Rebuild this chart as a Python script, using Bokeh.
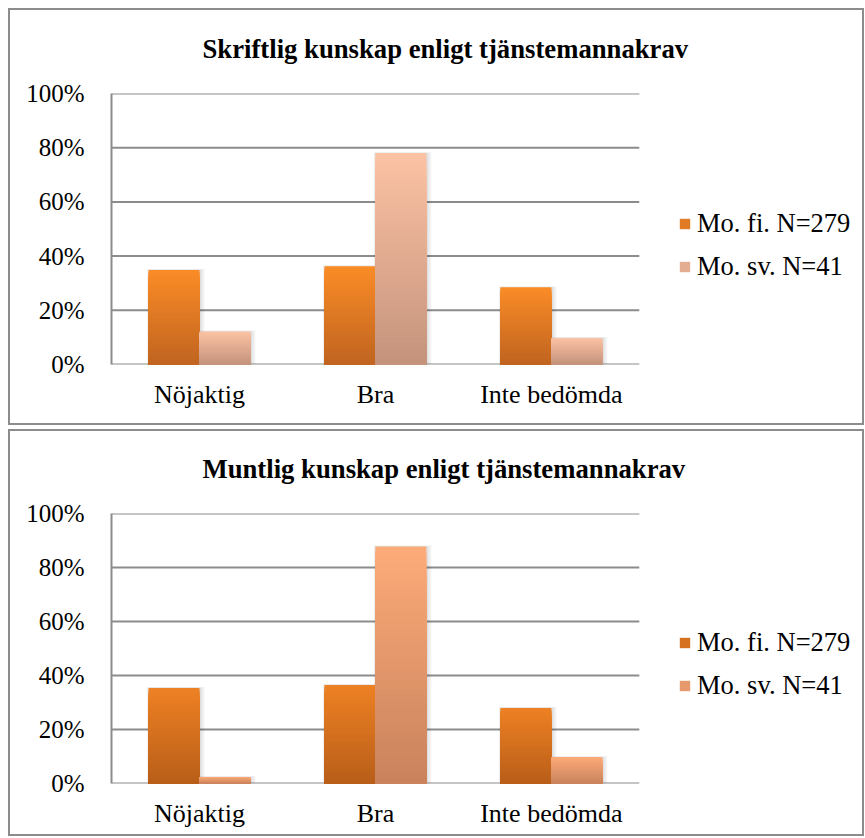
from bokeh.plotting import figure
from bokeh.models import ColumnDataSource, Range1d, NumeralTickFormatter, Legend, LegendItem, Title
from bokeh.layouts import column
from bokeh.embed import file_html
from bokeh.resources import INLINE

# ---------------- data ----------------
categories = ["Nöjaktig", "Bra", "Inte bedömda"]
series_names = ["Mo. fi. N=279", "Mo. sv. N=41"]
chart_titles = ["Skriftlig kunskap enligt tjänstemannakrav",
                "Muntlig kunskap enligt tjänstemannakrav"]
skriftlig_fi = [0.349, 0.363, 0.285]
skriftlig_sv = [0.122, 0.780, 0.098]
muntlig_fi = [0.354, 0.365, 0.280]
muntlig_sv = [0.024, 0.878, 0.098]
y_ticks = [0, 0.2, 0.4, 0.6, 0.8, 1.0]

# ---------------- styling ----------------
FONT = "Liberation Serif"
GRID = "#8c8c8c"
# (top colour, bottom colour) of each bar gradient
grad_top = {"fi": ("#fb8c27", "#bf6420"), "sv": ("#fcc2a4", "#c4937c")}
grad_bottom = {"fi": ("#ee8124", "#b85e19"), "sv": ("#fdab79", "#c8825c")}
N_STRIPS = 48
FIG_W = 856
LEFT = 101
PX_PER_CAT = 175.0
FRAME_H = 269.0


def hex2rgb(h):
    h = h.lstrip("#")
    return tuple(int(h[i:i + 2], 16) for i in (0, 2, 4))


def lerp(c0, c1, f):
    a, b = hex2rgb(c0), hex2rgb(c1)
    return "#%02x%02x%02x" % tuple(int(round(a[i] + (b[i] - a[i]) * f)) for i in range(3))


cat_pos = [i + 0.5 for i in range(len(categories))]


def strips(values, dx, top_col, bot_col):
    xs, tops, cols = [], [], []
    # tallest (top colour) first, shorter darker ones drawn on top -> no seams
    for k in range(N_STRIPS - 1, -1, -1):
        f = (k + 0.5) / N_STRIPS
        col = lerp(bot_col, top_col, f)
        for x, v in zip(cat_pos, values):
            xs.append(x + dx)
            tops.append(v * (k + 1) / N_STRIPS)
            cols.append(col)
    return ColumnDataSource(dict(x=xs, top=tops, color=cols))


def make_chart(title, fi, sv, grads, height, bot_b, title_standoff, spacer, legend_y):
    frame_w = FIG_W - 4 - LEFT
    p = figure(x_range=Range1d(0, frame_w / PX_PER_CAT), y_range=Range1d(0, 1),
               width=FIG_W, height=height, output_backend="svg", toolbar_location=None,
               min_border_left=LEFT, min_border_right=0,
               min_border_top=0, min_border_bottom=bot_b,
               outline_line_color=None, background_fill_color="white",
               border_fill_color="white")
    p.styles = {"border": "2px solid #8c8c8c"}

    # horizontal grid lines limited to the category area
    p.segment(x0=[0] * len(y_ticks), x1=[len(categories)] * len(y_ticks),
              y0=y_ticks, y1=y_ticks, line_color=GRID, line_width=2)

    bw = 0.289
    off = 0.1445
    # soft drop shadow behind the bars
    for s in (3, 2, 1):
        for vals, dx in ((fi, -off), (sv, off)):
            p.vbar(x=[x + dx + s * 0.6 / PX_PER_CAT for x in cat_pos],
                   top=[v + s * 0.3 / FRAME_H for v in vals], bottom=0,
                   width=bw + s * 2.2 / PX_PER_CAT,
                   fill_color="#000000", fill_alpha=0.045, line_color=None)
    for key, vals, dx in (("fi", fi, -off), ("sv", sv, off)):
        src = strips(vals, dx, grads[key][0], grads[key][1])
        p.vbar(x="x", top="top", bottom=0, width=bw,
               source=src, fill_color="color", line_color=None)

    # legend proxies (zero-height bars)
    r_fi = p.vbar(x=[0.5], top=[0], bottom=[0], width=0.01,
                  fill_color=lerp(grads["fi"][1], grads["fi"][0], 0.55), line_color=None)
    r_sv = p.vbar(x=[0.5], top=[0], bottom=[0], width=0.01,
                  fill_color=lerp(grads["sv"][1], grads["sv"][0], 0.55), line_color=None)
    legend = Legend(items=[LegendItem(label=series_names[0], renderers=[r_fi]),
                           LegendItem(label=series_names[1], renderers=[r_sv])],
                    location=(567, legend_y), orientation="vertical",
                    label_text_font=FONT, label_text_font_size="26.5px",
                    label_text_color="black",
                    glyph_width=13, glyph_height=13, label_standoff=6,
                    spacing=12, padding=0, margin=0,
                    border_line_color=None, background_fill_alpha=0)
    p.add_layout(legend, "center")

    p.title.text = title
    p.title.text_font = FONT
    p.title.text_font_size = "26.7px"
    p.title.text_font_style = "bold"
    p.title.text_color = "black"
    p.title.align = "left"
    p.title.offset = 91
    p.title.standoff = title_standoff
    # invisible spacer between the title and the plot frame
    p.add_layout(Title(text=" ", text_font_size="1px", standoff=spacer), "above")

    p.xgrid.grid_line_color = None
    p.ygrid.grid_line_color = None
    p.yaxis.ticker = y_ticks
    p.yaxis.formatter = NumeralTickFormatter(format="0%")
    p.yaxis.axis_line_color = GRID
    p.yaxis.axis_line_width = 2
    p.yaxis.major_tick_line_color = None
    p.yaxis.minor_tick_line_color = None
    p.yaxis.major_tick_out = 0
    p.yaxis.major_tick_in = 0
    p.yaxis.major_label_standoff = 27
    p.yaxis.major_label_text_font_size = "25px"
    p.xaxis.ticker = cat_pos
    p.xaxis.major_label_overrides = {x: c for x, c in zip(cat_pos, categories)}
    p.xaxis.axis_line_color = None
    p.xaxis.major_tick_line_color = None
    p.xaxis.minor_tick_line_color = None
    p.xaxis.major_tick_out = 0
    p.xaxis.major_tick_in = 0
    p.xaxis.major_label_standoff = 15
    p.xaxis.major_label_text_font_size = "26px"
    for ax in (p.xaxis, p.yaxis):
        ax.major_label_text_font = FONT
        ax.major_label_text_color = "black"
    return p


p1 = make_chart(chart_titles[0], skriftlig_fi, skriftlig_sv, grad_top, 417, 63, 43, 5, 82)
p2 = make_chart(chart_titles[1], muntlig_fi, muntlig_sv, grad_bottom, 407, 55, 41, 6, 82)
layout = column(p1, p2, spacing=4, margin=(8, 0, 0, 8))

open("out.html", "w").write(file_html(layout, INLINE))
